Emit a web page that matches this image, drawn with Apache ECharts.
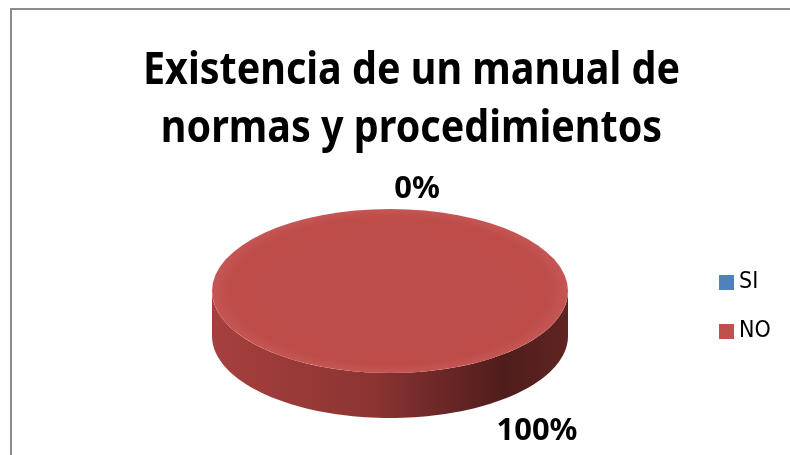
<!DOCTYPE html>
<html>
<head>
<meta charset="utf-8">
<script src="https://cdn.jsdelivr.net/npm/echarts@6/dist/echarts.min.js"></script>
<style>
html,body{margin:0;padding:0;background:#fff;}
#main{width:790px;height:455px;}
</style>
</head>
<body>
<div id="main"></div>
<script>
var titleLines = ['Existencia de un manual de', 'normas y procedimientos'];
var categories = ['SI', 'NO'];
var values = [0, 100];
var colors = ['#4F81BD', '#C0504D'];
var sideColors = [
  ['#3d6699', '#2a4a70'],
  ['#A6403E', '#4e1d1b']
];

var FAMILY = '"Noto Sans", "Open Sans", sans-serif';
var TITLE_FONT = 'bold 45px ' + FAMILY;
var LABEL_FONT = 'bold 31px ' + FAMILY;

var mctx = document.createElement('canvas').getContext('2d');
function textWidth(txt, font) { mctx.font = font; return mctx.measureText(txt).width; }
var titleScale = 537 / textWidth(titleLines[0], TITLE_FONT);
var labelScale = 81 / textWidth('100%', LABEL_FONT);

var chart = echarts.init(document.getElementById('main'));
var total = values.reduce(function (a, b) { return a + b; }, 0);
function pct(v) { return Math.round(v / total * 100) + '%'; }

function makeRender(seriesIdx) {
  return function (params, api) {
    var cx = 390, cy = 291, rx = 178, ry = 82, depth = 45;
    var before = 0;
    for (var i = 0; i < seriesIdx; i++) before += values[i];
    var v = api.value(0);
    var a0 = -Math.PI / 2 + before / total * Math.PI * 2;
    var a1 = a0 + v / total * Math.PI * 2;
    var children = [];
    if (v > 0) {
      var ranges = [];
      var s = Math.max(a0, 0), e = Math.min(a1, Math.PI);
      if (e > s) ranges.push([s, e]);
      var s2 = Math.max(a0, 2 * Math.PI), e2 = Math.min(a1, 3 * Math.PI);
      if (e2 > s2) ranges.push([s2, e2]);
      ranges.forEach(function (r) {
        var pts = [], n = 90, k;
        for (k = 0; k <= n; k++) {
          var t = r[0] + (r[1] - r[0]) * k / n;
          pts.push([cx + rx * Math.cos(t), cy + ry * Math.sin(t)]);
        }
        for (k = n; k >= 0; k--) {
          var t2 = r[0] + (r[1] - r[0]) * k / n;
          pts.push([cx + rx * Math.cos(t2), cy + depth + ry * Math.sin(t2)]);
        }
        children.push({
          type: 'polygon',
          shape: { points: pts },
          style: {
            fill: new echarts.graphic.LinearGradient(0, 0, 1, 0, [
              { offset: 0, color: sideColors[seriesIdx][0] },
              { offset: 0.45, color: '#8c3432' },
              { offset: 0.82, color: sideColors[seriesIdx][1] },
              { offset: 1, color: '#602422' }
            ]),
            stroke: null
          }
        });
      });
      children.push({
        type: 'sector',
        shape: { cx: cx, cy: cy, r0: 0, r: rx, startAngle: a0, endAngle: a1, clockwise: true },
        originX: cx, originY: cy, scaleY: ry / rx,
        style: {
          fill: new echarts.graphic.RadialGradient(0.5, 0.5, 0.5, [
            { offset: 0, color: '#BD4D4A' },
            { offset: 0.9, color: '#BE4D4A' },
            { offset: 1, color: '#C65653' }
          ]),
          stroke: null
        }
      });
    }
    var lx, ly;
    if (v === 0) { lx = cx + 27; ly = cy - ry - 20; }
    else { lx = cx + 147; ly = cy + ry + depth + 13; }
    children.push({
      type: 'text',
      x: lx, y: ly, scaleX: labelScale,
      style: {
        x: 0, y: 0, text: pct(v), fill: '#000',
        font: LABEL_FONT, textAlign: 'center', textVerticalAlign: 'middle'
      }
    });
    return { type: 'group', children: children };
  };
}

var series = categories.map(function (name, i) {
  return {
    type: 'custom',
    name: name,
    coordinateSystem: 'none',
    color: colors[i],
    z: i === 0 ? 3 : 2,
    data: [[values[i]]],
    renderItem: makeRender(i)
  };
});

var graphics = [{
  type: 'polyline',
  shape: { points: [[11, 460], [11, 9], [795, 9]] },
  style: { stroke: '#8c8c8c', lineWidth: 2, fill: null },
  silent: true
}];
titleLines.forEach(function (line, i) {
  graphics.push({
    type: 'text',
    x: 411.5, y: 71 + i * 58, scaleX: titleScale,
    style: { x: 0, y: 0, text: line, font: TITLE_FONT, fill: '#000', textAlign: 'center', textVerticalAlign: 'middle' },
    silent: true
  });
});

chart.setOption({
  animation: false,
  legend: {
    data: categories,
    orient: 'vertical',
    left: 719,
    top: 271,
    padding: 0,
    itemWidth: 15,
    itemHeight: 15,
    itemGap: 26,
    icon: 'rect',
    textStyle: { fontFamily: '"DejaVu Sans Condensed", "DejaVu Sans", sans-serif', fontSize: 23, color: '#000', padding: [0, 0, 0, 0] }
  },
  graphic: graphics,
  series: series
});
</script>
</body>
</html>
